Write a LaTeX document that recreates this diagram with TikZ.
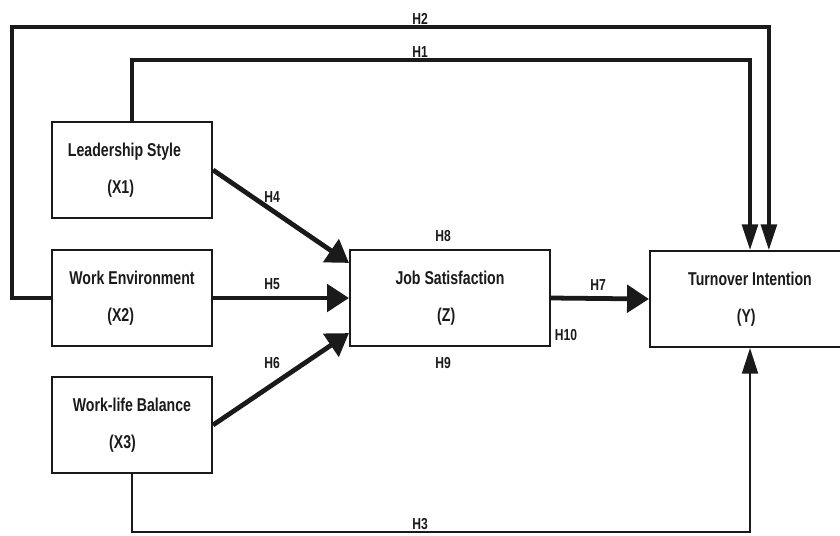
\documentclass[tikz,border=0pt]{standalone}
\usepackage{fontspec}
\setmainfont{Liberation Sans}[FakeStretch=0.76]
\usetikzlibrary{positioning,calc,arrows.meta}
\definecolor{inkmain}{HTML}{1A1A1A}

\begin{document}
\begin{tikzpicture}[x=0.0265cm, y=-0.0265cm,
    varbox/.style={draw=inkmain, line width=1.6pt, fill=white,
                 minimum width=4.24cm, minimum height=2.54cm, inner sep=0pt,
                 font=\fontsize{14}{16}\selectfont\bfseries, text=inkmain, align=center},
    hlabel/.style={font=\fontsize{12}{14}\selectfont\bfseries, text=inkmain, inner sep=0pt},
    bigarrow/.style={draw=inkmain, line width=3.6pt,
                 -{Triangle[length=0.58cm, width=0.72cm]}},
    longarrow/.style={draw=inkmain, line width=2.5pt,
                 -{Triangle[length=0.68cm, width=0.42cm]}},
  ]
  \useasboundingbox (0,0) rectangle (840,535);
  \begin{scope}
  \clip (0,0) rectangle (840,535);
  % variables
  \node[varbox] (x1) at (132,170) {Leadership Style\hspace*{0.4cm}\\[12pt](X1)\hspace*{0.6cm}};
  \node[varbox] (x2) at (132,298) {Work Environment\\[12pt](X2)\hspace*{0.6cm}};
  \node[varbox] (x3) at (132,425) {Work-life Balance\\[12pt](X3)\hspace*{0.5cm}};
  \node[varbox, minimum width=5.3cm] (z) at (450,298) {Job Satisfaction\\[12pt](Z)\hspace*{0.2cm}};
  \node[varbox, minimum width=5.3cm] (y) at (750,299) {Turnover Intention\\[12pt](Y)\hspace*{0.2cm}};

  % routing points
  \coordinate (h2a) at (12,27);
  \coordinate (h1a) at (0,60);
  \coordinate (h3a) at (0,532);
  \coordinate (yh2) at ([xshift=0.5cm]y.north);

  % direct paths to turnover intention
  \draw[longarrow] (x2.west) -| (h2a) -| (yh2);
  \draw[longarrow] (x1.north) |- (h1a -| y.north) -- (y.north);
  \draw[longarrow, line width=1.8pt] (x3.south) |- (h3a -| y.south) -- (y.south);

  % paths to job satisfaction
  \draw[bigarrow] (x1.east) -- ([yshift=0.93cm]z.west);
  \draw[bigarrow] (x2.east) -- (z.west);
  \draw[bigarrow] (x3.east) -- ([yshift=-0.93cm]z.west);
  \draw[bigarrow] (z.east) -- (y.west);

  % hypothesis labels
  \node[hlabel] (lh2) at (420,19) {H2};
  \node[hlabel] (lh1) at (420,52) {H1};
  \node[hlabel] (lh4) at (272,197) {H4};
  \node[hlabel] (lh5) at (272,284) {H5};
  \node[hlabel] (lh6) at (272,363) {H6};
  \node[hlabel] (lh8) at (443,236) {H8};
  \node[hlabel] (lh9) at (443,363) {H9};
  \node[hlabel] (lh7) at (598,285) {H7};
  \node[hlabel] (lh10) at (566,335) {H10};
  \node[hlabel] (lh3) at (420,524) {H3};
  \end{scope}
\end{tikzpicture}
\end{document}
